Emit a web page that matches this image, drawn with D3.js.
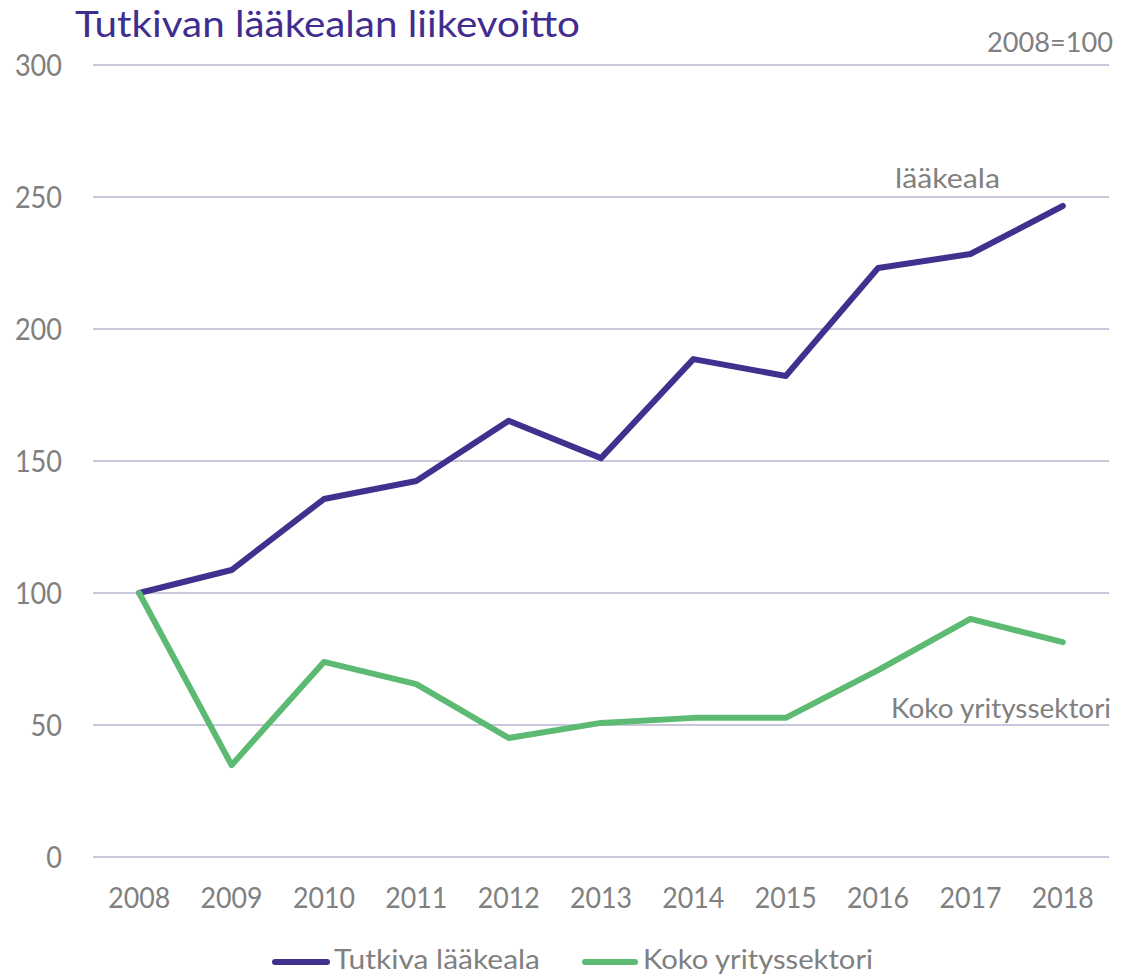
<!DOCTYPE html>
<html><head><meta charset="utf-8">
<script src="https://cdn.jsdelivr.net/npm/d3@7"></script>
<style>html,body{margin:0;padding:0;background:#fff}</style>
</head><body>
<script>
const years = ["2008","2009","2010","2011","2012","2013","2014","2015","2016","2017","2018"];
const laakeala = [100,108.7,135.6,142.4,165.2,151.1,188.6,182.2,223.1,228.4,246.6];
const kokoSektori = [100,34.8,73.9,65.5,45.1,50.8,52.7,52.7,70.8,90.2,81.4];
const yTicks = [0,50,100,150,200,250,300];
const seriesNames = ["Tutkiva lääkeala","Koko yrityssektori"];
const colors = ["#41318f","#5dba72"];

const W=1122,H=977;
const font="Lato, 'Open Sans', sans-serif";
const grey="#808080";
const svg=d3.select("body").append("svg").attr("width",W).attr("height",H);
const x=d3.scaleBand().domain(years).range([93,1109]);
const y=d3.scaleLinear().domain([0,300]).range([857,65]);

// gridlines
svg.append("g").selectAll("line").data(yTicks).join("line")
  .attr("x1",93).attr("x2",1109).attr("y1",d=>y(d)).attr("y2",d=>y(d))
  .attr("stroke","#c9c7dc").attr("stroke-width",2);

// y axis labels
const yAxis=d3.axisLeft(y).tickValues(yTicks).tickSize(0).tickPadding(0);
const gy=svg.append("g").attr("transform","translate(62,0)").call(yAxis);
gy.select(".domain").remove();
gy.selectAll("text").attr("font-family",font).attr("font-size",30).attr("fill",grey)
  .attr("dy",null).attr("y",10)
  .attr("textLength",d=>String(d).length*15.7).attr("lengthAdjust","spacingAndGlyphs");

// x axis
const xAxis=d3.axisBottom(x).tickSize(0).tickPadding(0);
const gx=svg.append("g").attr("transform","translate(0,908)").call(xAxis);
gx.select(".domain").remove();
gx.selectAll("text").attr("font-family",font).attr("font-size",29).attr("fill",grey)
  .attr("dy",null).attr("y",0)
  .attr("textLength",62).attr("lengthAdjust","spacingAndGlyphs");

const line=d3.line().x((d,i)=>x(years[i])+x.bandwidth()/2).y(d=>y(d));
[laakeala,kokoSektori].forEach((s,i)=>{
  svg.append("path").datum(s).attr("d",line).attr("fill","none")
    .attr("stroke",colors[i]).attr("stroke-width",6).attr("stroke-linejoin","round").attr("stroke-linecap","round");
});

// title
svg.append("text").attr("x",75).attr("y",37).text("Tutkivan lääkealan liikevoitto")
  .attr("font-family",font).attr("font-size",36).attr("fill","#3f2d8f")
  .attr("textLength",505).attr("lengthAdjust","spacingAndGlyphs");
svg.append("text").attr("x",987).attr("y",52).text("2008=100")
  .attr("font-family",font).attr("font-size",26).attr("fill",grey)
  .attr("textLength",126).attr("lengthAdjust","spacingAndGlyphs");
svg.append("text").attr("x",895).attr("y",188).text("lääkeala")
  .attr("font-family",font).attr("font-size",27).attr("fill",grey)
  .attr("textLength",105).attr("lengthAdjust","spacingAndGlyphs");
svg.append("text").attr("x",891).attr("y",718).text("Koko yrityssektori")
  .attr("font-family",font).attr("font-size",27).attr("fill",grey)
  .attr("textLength",220).attr("lengthAdjust","spacingAndGlyphs");

// legend
const leg=[{x1:272,x2:330,tx:334,tw:206},{x1:582,x2:638,tx:643,tw:230}];
leg.forEach((l,i)=>{
  svg.append("line").attr("x1",l.x1+3).attr("x2",l.x2-3).attr("y1",962).attr("y2",962)
    .attr("stroke",colors[i]).attr("stroke-width",6).attr("stroke-linecap","round");
  svg.append("text").attr("x",l.tx).attr("y",969).text(seriesNames[i])
    .attr("font-family",font).attr("font-size",27).attr("fill",grey)
    .attr("textLength",l.tw).attr("lengthAdjust","spacingAndGlyphs");
});
</script>
</body></html>
